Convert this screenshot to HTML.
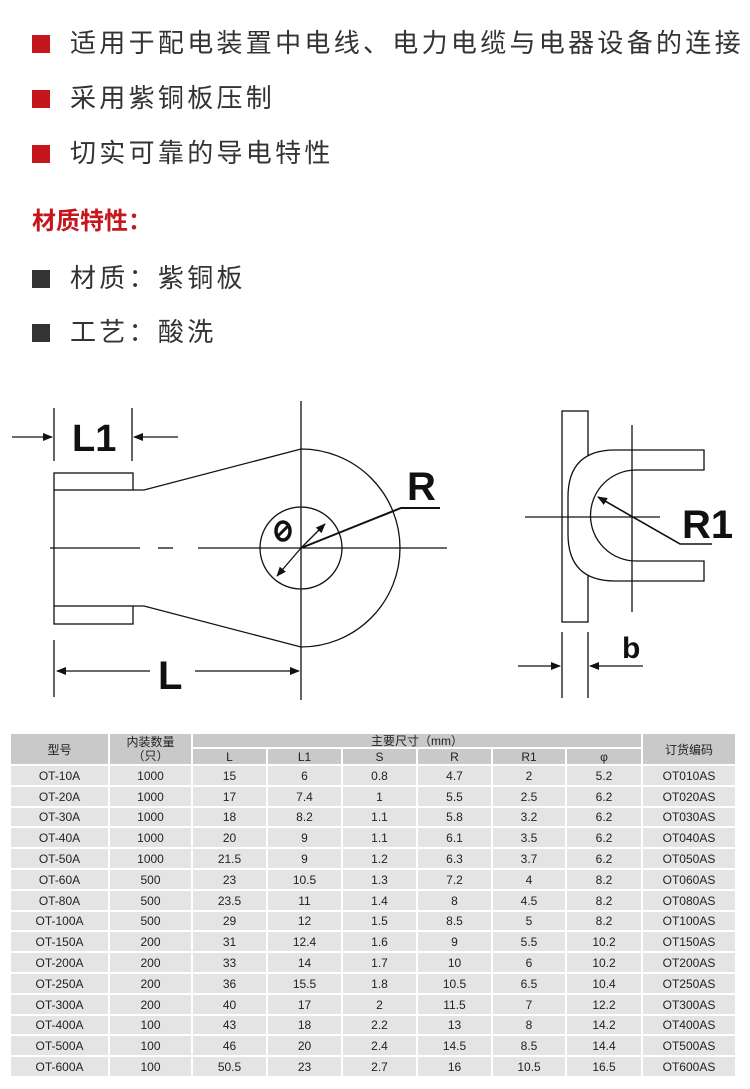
<!DOCTYPE html>
<html><head><meta charset="utf-8"><style>
body{margin:0;width:750px;height:1089px;background:#fff;position:relative;overflow:hidden;font-family:"Liberation Sans","Noto Sans CJK SC",sans-serif;}
.b{position:absolute;left:32px;width:18px;height:18px;}
.t{position:absolute;left:70px;font-size:26px;color:#333;letter-spacing:3.3px;line-height:30px;white-space:nowrap;}
.c{position:absolute;display:flex;align-items:center;justify-content:center;font-size:12px;color:#222;box-sizing:border-box;border-right:2px solid #fff;border-bottom:2px solid #fff;}
.h{background:#c9c9c9;}
.r{background:#e4e4e4;}
</style></head><body>
<div class="b" style="top:35px;background:#c4161c"></div><div class="t" style="top:28px">适用于配电装置中电线、电力电缆与电器设备的连接</div>
<div class="b" style="top:90px;background:#c4161c"></div><div class="t" style="top:83px">采用紫铜板压制</div>
<div class="b" style="top:145px;background:#c4161c"></div><div class="t" style="top:138px">切实可靠的导电特性</div>
<div style="position:absolute;left:32px;top:207px;font-size:24px;font-weight:bold;color:#c4161c;line-height:30px">材质特性：</div>
<div class="b" style="top:270px;background:#333"></div><div class="t" style="top:263px">材质：紫铜板</div>
<div class="b" style="top:324px;background:#333"></div><div class="t" style="top:317px">工艺：酸洗</div>

<svg width="750" height="730" style="position:absolute;left:0;top:0" xmlns="http://www.w3.org/2000/svg">
<defs><marker id="a" markerWidth="10" markerHeight="8" refX="9" refY="4" orient="auto" markerUnits="userSpaceOnUse"><path d="M0,0L10,4L0,8z" fill="#111"/></marker></defs>
<g stroke="#111" stroke-width="1.3" fill="none">
<line x1="54" y1="408" x2="54" y2="461"/><line x1="132" y1="408" x2="132" y2="461"/>
<line x1="12" y1="437" x2="52" y2="437" marker-end="url(#a)"/><line x1="178" y1="437" x2="134" y2="437" marker-end="url(#a)"/>
<rect x="54" y="473" width="79" height="17"/><rect x="54" y="606" width="79" height="18"/>
<line x1="54" y1="490" x2="54" y2="606"/>
<path d="M133,490H144L301,449A99,99 0 0 1 301,647L144,606H133"/>
<circle cx="301" cy="548" r="41"/>
<line x1="50" y1="548" x2="140" y2="548"/><line x1="158" y1="548" x2="173" y2="548"/><line x1="198" y1="548" x2="447" y2="548"/>
<line x1="301" y1="401" x2="301" y2="700"/>
<path d="M301,548L401,508H440" stroke-width="2"/>
<line x1="301" y1="548" x2="325" y2="524" marker-end="url(#a)"/><line x1="301" y1="548" x2="277" y2="576" marker-end="url(#a)"/>
<line x1="54" y1="640" x2="54" y2="697"/>
<line x1="150" y1="671" x2="57" y2="671" marker-end="url(#a)"/><line x1="195" y1="671" x2="299" y2="671" marker-end="url(#a)"/>
<rect x="562" y="411" width="26" height="211"/>
<path d="M704,450H615Q568,450 568,497V534Q568,581 615,581H704V561H636A45.5,45.5 0 0 1 636,470H704Z" fill="#fff"/>
<line x1="632" y1="425" x2="632" y2="612"/>
<line x1="525" y1="517" x2="660" y2="517"/>
<path d="M712,544H680L598,497" stroke-width="1.6" marker-end="url(#a)"/>
<line x1="562" y1="632" x2="562" y2="698"/><line x1="588" y1="632" x2="588" y2="698"/>
<line x1="518" y1="666" x2="560" y2="666" marker-end="url(#a)"/><line x1="643" y1="666" x2="590" y2="666" marker-end="url(#a)"/>
<ellipse cx="283" cy="531" rx="7" ry="9" stroke-width="3.5"/>
<line x1="277" y1="537" x2="289" y2="525" stroke-width="3"/>
</g>
<g font-family="Liberation Sans,sans-serif" font-weight="bold" fill="#111">
<text x="72" y="451" font-size="38">L1</text>
<text x="407" y="500" font-size="40">R</text>
<text x="158" y="689" font-size="40">L</text>
<text x="682" y="538" font-size="40">R1</text>
<text x="622" y="658" font-size="30">b</text>
</g>
</svg>

<div id="tb"></div>
<script>
var xs=[11,110,193,268,343,418,493,567,643,737];
var rows=[["OT-10A","1000","15","6","0.8","4.7","2","5.2","OT010AS"],["OT-20A","1000","17","7.4","1","5.5","2.5","6.2","OT020AS"],["OT-30A","1000","18","8.2","1.1","5.8","3.2","6.2","OT030AS"],["OT-40A","1000","20","9","1.1","6.1","3.5","6.2","OT040AS"],["OT-50A","1000","21.5","9","1.2","6.3","3.7","6.2","OT050AS"],["OT-60A","500","23","10.5","1.3","7.2","4","8.2","OT060AS"],["OT-80A","500","23.5","11","1.4","8","4.5","8.2","OT080AS"],["OT-100A","500","29","12","1.5","8.5","5","8.2","OT100AS"],["OT-150A","200","31","12.4","1.6","9","5.5","10.2","OT150AS"],["OT-200A","200","33","14","1.7","10","6","10.2","OT200AS"],["OT-250A","200","36","15.5","1.8","10.5","6.5","10.4","OT250AS"],["OT-300A","200","40","17","2","11.5","7","12.2","OT300AS"],["OT-400A","100","43","18","2.2","13","8","14.2","OT400AS"],["OT-500A","100","46","20","2.4","14.5","8.5","14.4","OT500AS"],["OT-600A","100","50.5","23","2.7","16","10.5","16.5","OT600AS"]];
var h="";
function c(x,y,w,hh,cls,t){h+='<div class="c '+cls+'" style="left:'+x+'px;top:'+y+'px;width:'+w+'px;height:'+hh+'px">'+t+'</div>';}
c(11,734,99,32,"h","型号");
c(110,734,83,32,"h",'<span style="line-height:14px;text-align:center">内装数量<br>（只）</span>');
c(193,734,450,15,"h","主要尺寸（mm）");
var hd=["L","L1","S","R","R1","φ"];
for(var i=0;i<6;i++)c(xs[i+2],749,xs[i+3]-xs[i+2],17,"h",hd[i]);
c(643,734,94,32,"h","订货编码");
for(var r=0;r<15;r++){var y=766+r*20.8;for(var j=0;j<9;j++)c(xs[j],Math.round(y),xs[j+1]-xs[j],Math.round(y+20.8)-Math.round(y),"r",rows[r][j]);}
document.getElementById("tb").innerHTML=h;
</script>
</body></html>
